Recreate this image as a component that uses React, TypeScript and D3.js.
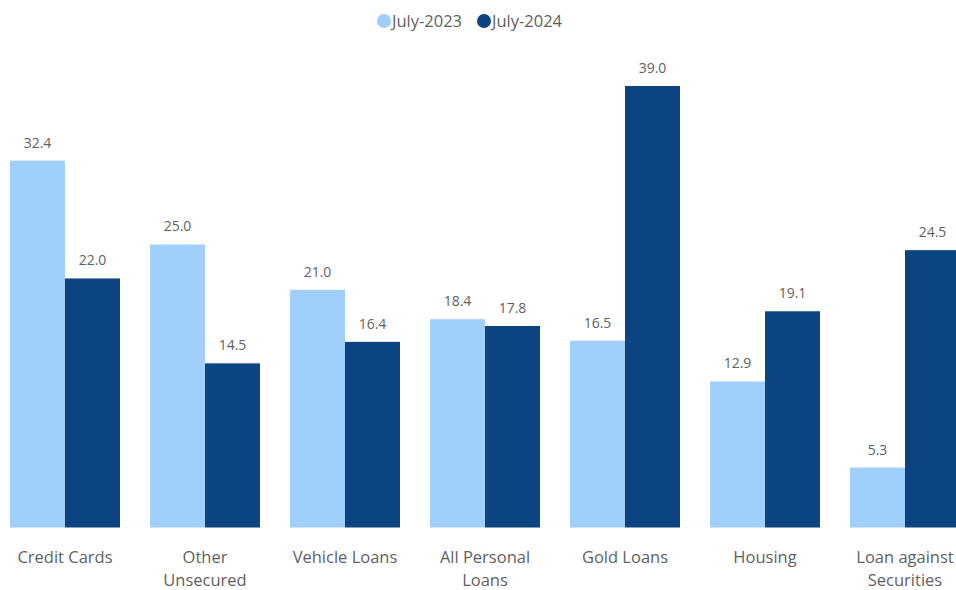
import React from "react";
import * as d3 from "d3";

const categories = [
  ["Credit Cards"],
  ["Other", "Unsecured"],
  ["Vehicle Loans"],
  ["All Personal", "Loans"],
  ["Gold Loans"],
  ["Housing"],
  ["Loan against", "Securities"],
];
const seriesNames = ["July-2023", "July-2024"];
const july2023 = [32.4, 25.0, 21.0, 18.4, 16.5, 12.9, 5.3];
const july2024 = [22.0, 14.5, 16.4, 17.8, 39.0, 19.1, 24.5];
const colors = ["#9fcffa", "#0b4480"];

const W = 956;
const H = 590;

export default function App() {
  const keys = categories.map((c) => c.join(" "));
  const x0 = d3.scaleBand<string>().domain(keys).range([10, 960]).paddingInner(30 / 140).paddingOuter(0);
  const x1 = d3.scaleBand<string>().domain(seriesNames).range([0, x0.bandwidth()]).padding(0);
  const y = d3.scaleLinear().domain([0, 39]).range([527.5, 86]);
  const values = [july2023, july2024];
  const font = "'Open Sans', 'Noto Sans', sans-serif";
  const textColor = "#5f5f5f";

  return (
    <svg width={W} height={H} style={{ position: "absolute", left: 0, top: 0, background: "#fff" }} fontFamily={font}>
      {/* legend */}
      <g>
        <circle cx={384} cy={21} r={7} fill={colors[0]} />
        <text x={392} y={27} fontSize={16.5} fill={textColor}>{seriesNames[0]}</text>
        <circle cx={484} cy={21} r={7} fill={colors[1]} />
        <text x={492} y={27} fontSize={16.5} fill={textColor}>{seriesNames[1]}</text>
      </g>
      {keys.map((k, i) => (
        <g key={k} transform={`translate(${x0(k)},0)`}>
          {seriesNames.map((s, j) => {
            const v = values[j][i];
            const bx = x1(s)!;
            const bw = x1.bandwidth();
            return (
              <g key={s}>
                <rect x={bx} y={y(v)} width={bw} height={y(0) - y(v)} fill={colors[j]} />
                <text x={bx + bw / 2} y={y(v) - 13} textAnchor="middle" fontSize={14} fill={textColor}>
                  {v.toFixed(1)}
                </text>
              </g>
            );
          })}
          {categories[i].map((line, li) => (
            <text key={li} x={x0.bandwidth() / 2} y={563 + li * 23} textAnchor="middle" fontSize={16.5} fill={textColor}>
              {line}
            </text>
          ))}
        </g>
      ))}
    </svg>
  );
}
